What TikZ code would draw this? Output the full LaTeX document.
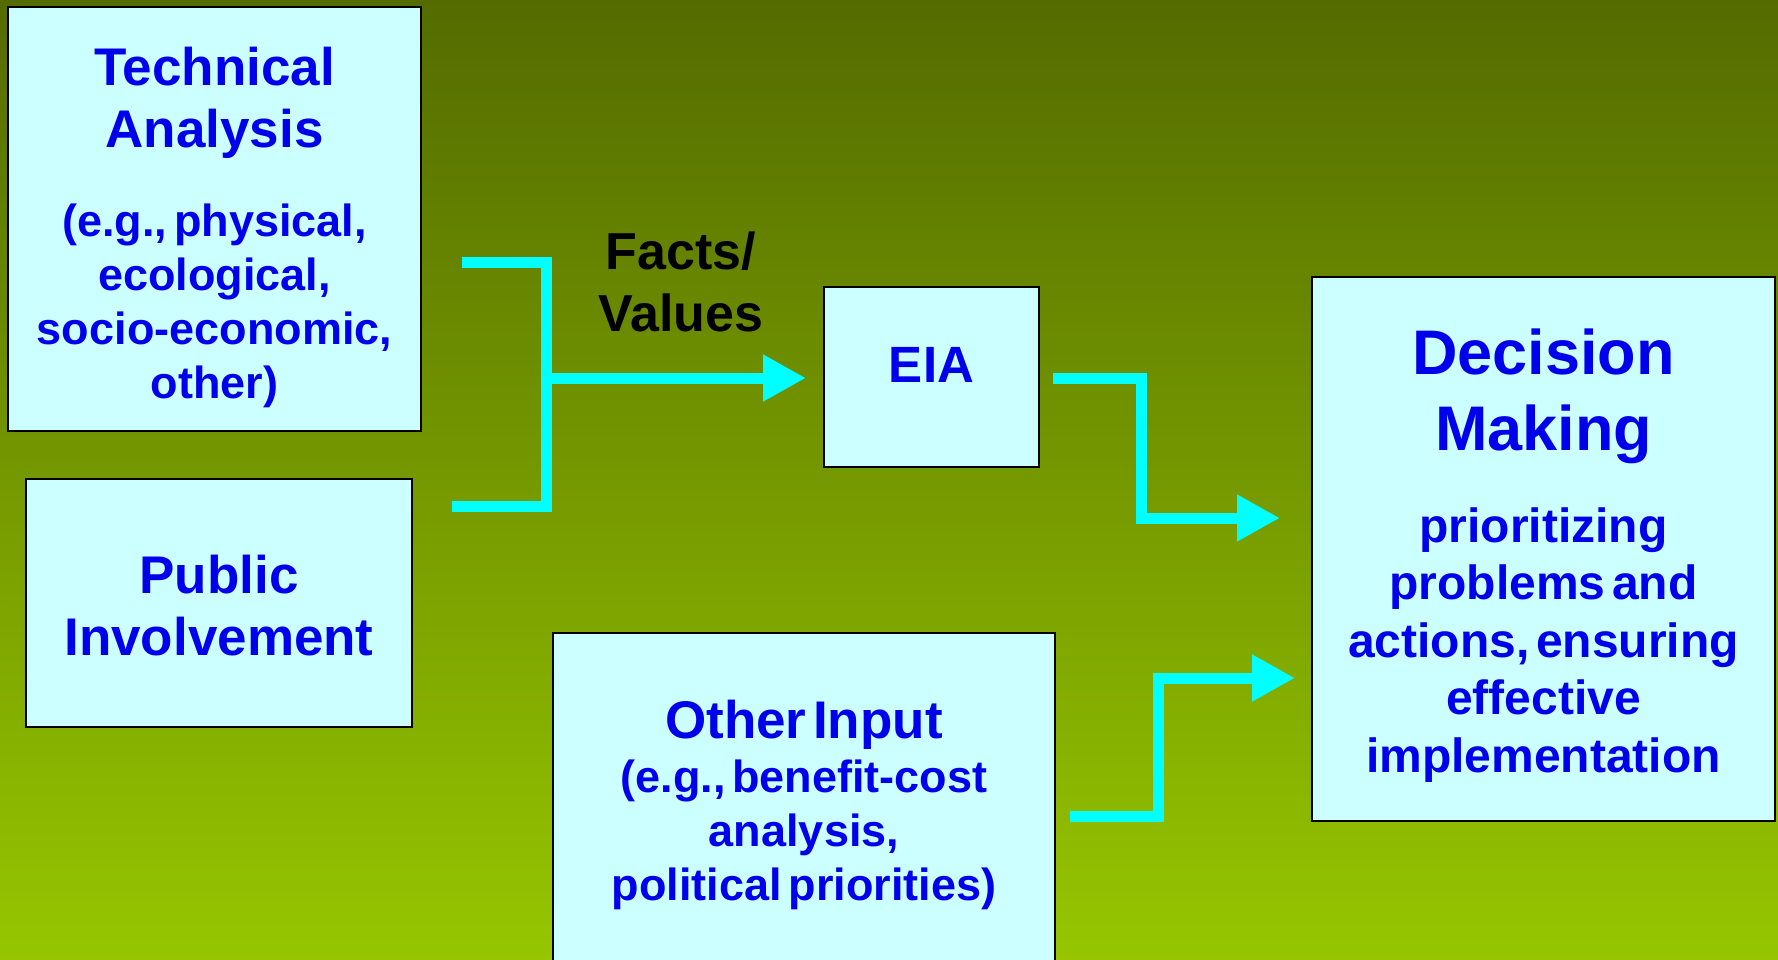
\documentclass[tikz,border=0pt]{standalone}
\usepackage{fontspec}
\setmainfont{Liberation Sans}
\usetikzlibrary{arrows.meta}
\definecolor{BgTop}{RGB}{84,107,0}
\definecolor{BgBot}{RGB}{150,198,0}
\definecolor{BoxC}{RGB}{204,255,255}
\definecolor{TxtB}{RGB}{0,0,235}
\definecolor{FlowC}{RGB}{0,255,255}
\begin{document}
\begin{tikzpicture}[x=0.5pt, y=-0.5pt,
    box/.style={draw=black, line width=1pt, fill=BoxC, text=TxtB, align=center,
                inner sep=0pt, outer sep=0pt, anchor=north west, font=\bfseries},
    flow/.style={draw=FlowC, line width=5.5pt, line join=miter},
    headed/.style={-{Triangle[length=21.5pt, width=22pt]}}]
      \useasboundingbox (0,0) rectangle (1778,959);
      \clip (0,0) rectangle (1778,959);
      \shade[top color=BgTop, bottom color=BgBot] (0,0) rectangle (1778,959);

      \node[box, text width=206.5pt, text height=39pt, text depth=173pt] (tech) at (8,7)
        {{\fontsize{26.5}{31}\selectfont Technical\\Analysis\par}\vspace{17.5pt}%
         {\fontsize{22.5}{27}\selectfont (e.g., physical,\\ecological,\\socio-economic,\\other)\par}};
      \node[box, text width=193pt, text height=57pt, text depth=67pt,
            font=\bfseries\fontsize{26.5}{31}\selectfont] (pub) at (26,479) {Public\\Involvement};
      \node[box, text width=107.5pt, text height=47.5pt, text depth=42.5pt,
            font=\bfseries\fontsize{25.5}{31}\selectfont] (eia) at (824,287) {EIA};
      \node[box, text width=231.5pt, text height=48.5pt, text depth=223.5pt] (dm) at (1312,277)
        {{\fontsize{31.5}{38}\selectfont Decision\\Making\par}\vspace{17.25pt}%
         {\fontsize{24}{28.75}\selectfont prioritizing\\problems and\\actions, ensuring\\effective\\implementation\par}};
      \node[box, text width=251pt, text height=52.5pt, text depth=119.5pt] (oth) at (553,633)
        {{\fontsize{26.5}{27}\selectfont Other Input\par}%
         {\fontsize{22.5}{27}\selectfont (e.g., benefit-cost\\analysis,\\political priorities)\par}};
      \node[text width=100pt, align=center, anchor=base, inner sep=0pt,
            font=\bfseries\fontsize{26}{31}\selectfont] (fv) at (681,269) {Facts/\\Values};

      \coordinate (bt) at (462,262);
      \coordinate (bb) at (452,506);
      \coordinate (jn) at (546,378);
      \coordinate (eo) at (1053,378);
      \coordinate (k1) at (1141,518);
      \coordinate (oo) at (1070,816);
      \coordinate (k2) at (1158,678);

      \draw[flow] (bt) -| (jn) |- (bb);
      \draw[flow, headed, shorten >=9pt] (jn) -- (jn -| eia.west);
      \draw[flow, headed, shorten >=16pt] (eo) -| (k1) -- (k1 -| dm.west);
      \draw[flow, headed, shorten >=8.5pt] (oo) -| (k2) -- (k2 -| dm.west);
\end{tikzpicture}
\end{document}
